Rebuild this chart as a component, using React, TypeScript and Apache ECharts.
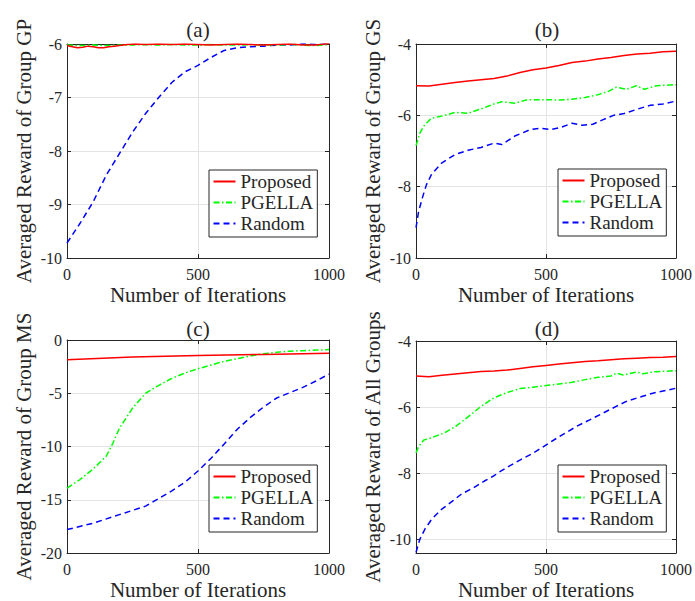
import React, { useEffect, useRef } from "react";
import * as echarts from "echarts";

const SERIES_NAMES = ["Proposed", "PGELLA", "Random"];
const PANEL_TITLES = ["(a)", "(b)", "(c)", "(d)"];
const Y_NAMES = [
  "Averaged Reward of Group GP",
  "Averaged Reward of Group GS",
  "Averaged Reward of Group MS",
  "Averaged Reward of All Groups",
];
const X_NAME = "Number of Iterations";

// Panel (a)
const aPropIter = [0, 20, 40, 60, 80, 100, 120, 140, 160, 180, 200, 230, 260, 300, 350, 400, 450, 500, 550, 600, 650, 700, 750, 800, 850, 900, 950, 1000];
const aPropVal = [-6.03, -6.05, -6.07, -6.06, -6.04, -6.05, -6.07, -6.07, -6.05, -6.04, -6.03, -6.01, -6.0, -6.01, -6.0, -6.01, -6.0, -6.01, -6.02, -6.01, -6.0, -6.01, -6.02, -6.01, -6.0, -6.02, -6.02, -5.99];
const aPgIter = [0, 50, 100, 150, 200, 250, 300, 350, 400, 450, 500, 550, 600, 650, 700, 750, 800, 850, 900, 950, 1000];
const aPgVal = [-6.02, -6.03, -6.02, -6.03, -6.02, -6.02, -6.01, -6.02, -6.01, -6.02, -6.02, -6.01, -6.02, -6.02, -6.01, -6.02, -6.02, -6.01, -6.02, -6.03, -6.01];
const aRandIter = [0, 50, 100, 150, 200, 250, 300, 350, 400, 450, 500, 550, 600, 650, 700, 750, 800, 850, 900, 950, 1000];
const aRandVal = [-9.72, -9.35, -8.95, -8.45, -8.05, -7.65, -7.3, -7.0, -6.72, -6.52, -6.4, -6.25, -6.12, -6.07, -6.05, -6.04, -6.02, -6.02, -6.0, -6.01, -6.0];

// Panel (b)
const bPropIter = [0, 50, 100, 150, 200, 250, 300, 350, 400, 450, 500, 550, 600, 650, 700, 750, 800, 850, 900, 950, 1000];
const bPropVal = [-5.17, -5.18, -5.13, -5.08, -5.04, -5.0, -4.97, -4.9, -4.8, -4.72, -4.67, -4.6, -4.52, -4.48, -4.42, -4.38, -4.32, -4.28, -4.26, -4.22, -4.2];
const bPgIter = [0, 15, 30, 60, 100, 150, 200, 250, 300, 330, 380, 430, 500, 550, 600, 650, 700, 740, 771, 809, 848, 879, 924, 1000];
const bPgVal = [-6.85, -6.5, -6.3, -6.08, -6.02, -5.92, -5.94, -5.82, -5.68, -5.62, -5.66, -5.56, -5.56, -5.57, -5.55, -5.5, -5.42, -5.33, -5.21, -5.27, -5.17, -5.27, -5.17, -5.14];
const bRandIter = [0, 10, 25, 40, 60, 100, 150, 200, 250, 300, 330, 380, 440, 480, 520, 560, 600, 640, 680, 720, 760, 800, 850, 900, 950, 1000];
const bRandVal = [-9.15, -8.7, -8.3, -7.95, -7.65, -7.33, -7.1, -6.98, -6.9, -6.78, -6.82, -6.58, -6.4, -6.36, -6.4, -6.33, -6.22, -6.28, -6.25, -6.12, -6.0, -5.95, -5.83, -5.72, -5.68, -5.6];

// Panel (c)
const cPropIter = [0, 250, 500, 750, 1000];
const cPropVal = [-1.85, -1.6, -1.45, -1.35, -1.25];
const cPgIter = [0, 50, 100, 150, 175, 200, 250, 300, 340, 400, 450, 500, 550, 600, 650, 700, 750, 800, 850, 900, 950, 1000];
const cPgVal = [-13.9, -13.1, -12.1, -10.9, -9.7, -8.3, -6.4, -5.0, -4.4, -3.6, -3.1, -2.7, -2.35, -2.0, -1.75, -1.5, -1.3, -1.15, -1.05, -1.0, -0.95, -0.9];
const cRandIter = [0, 100, 200, 300, 400, 450, 500, 550, 600, 650, 700, 750, 800, 850, 900, 950, 1000];
const cRandVal = [-17.8, -17.2, -16.4, -15.6, -14.17, -13.36, -12.3, -11.1, -9.76, -8.38, -7.27, -6.3, -5.45, -4.95, -4.45, -3.85, -3.2];

// Panel (d)
const dPropIter = [0, 50, 100, 150, 200, 250, 300, 350, 400, 450, 500, 550, 600, 650, 700, 750, 800, 850, 900, 950, 1000];
const dPropVal = [-5.06, -5.08, -5.04, -5.0, -4.96, -4.92, -4.91, -4.88, -4.83, -4.78, -4.74, -4.7, -4.66, -4.62, -4.6, -4.57, -4.54, -4.52, -4.5, -4.49, -4.47];
const dPgIter = [0, 10, 30, 60, 110, 150, 200, 250, 300, 350, 400, 450, 500, 550, 600, 650, 700, 750, 771, 797, 848, 873, 920, 1000];
const dPgVal = [-7.39, -7.2, -7.0, -6.93, -6.78, -6.6, -6.3, -5.98, -5.72, -5.56, -5.44, -5.4, -5.35, -5.3, -5.25, -5.17, -5.1, -5.06, -4.97, -5.03, -4.94, -4.99, -4.93, -4.9];
const dRandIter = [0, 15, 34, 60, 98, 140, 174, 220, 263, 300, 326, 360, 403, 450, 492, 550, 619, 670, 720, 770, 809, 860, 911, 960, 1000];
const dRandVal = [-10.4, -10.0, -9.7, -9.4, -9.1, -8.85, -8.64, -8.45, -8.24, -8.08, -7.94, -7.78, -7.59, -7.4, -7.19, -6.9, -6.58, -6.38, -6.18, -5.98, -5.83, -5.7, -5.58, -5.5, -5.43];

// Axis ranges
const Y_MIN = [-10, -10, -20, -10.42];
const Y_MAX = [-6, -4, 0, -4];
const Y_STEP = [1, 2, 5, 2];
const X_MIN = 0;
const X_MAX = 1000;
const X_STEP = 500;

const PANEL_DATA = [
  [[aPropIter, aPropVal], [aPgIter, aPgVal], [aRandIter, aRandVal]],
  [[bPropIter, bPropVal], [bPgIter, bPgVal], [bRandIter, bRandVal]],
  [[cPropIter, cPropVal], [cPgIter, cPgVal], [cRandIter, cRandVal]],
  [[dPropIter, dPropVal], [dPgIter, dPgVal], [dRandIter, dRandVal]],
];

const FONT = "Liberation Serif";
const INK = "#262626";
const COLORS = ["#ff0000", "#00ff00", "#0000ff"];
const DASHES: any[] = ["solid", [6, 2.5, 1.5, 2.5], [6, 4]];

const GRIDS = [
  { left: 67, top: 44, width: 262, height: 214 },
  { left: 416, top: 44, width: 262, height: 214 },
  { left: 67, top: 340, width: 262, height: 214 },
  { left: 416, top: 341, width: 262, height: 213 },
];
const LEGEND_POS = [
  { left: 209, top: 170 },
  { left: 558, top: 169 },
  { left: 209, top: 465 },
  { left: 558, top: 465 },
];
const TITLE_POS = [
  { x: 198, y: 30 },
  { x: 547, y: 30 },
  { x: 198, y: 329 },
  { x: 547, y: 329 },
];

export default function App() {
  const ref = useRef<HTMLDivElement>(null);
  useEffect(() => {
    if (!ref.current) return;
    const chart = echarts.init(ref.current, undefined, { renderer: "svg" });
    const xAxis: any[] = [];
    const yAxis: any[] = [];
    const series: any[] = [];
    const legend: any[] = [];
    const graphic: any[] = [];
    GRIDS.forEach((g, i) => {
      const tick = { show: true, inside: true, length: 4, lineStyle: { color: INK, width: 1 } };
      const line = { show: true, onZero: false, lineStyle: { color: INK, width: 1 } };
      const split = { show: true, lineStyle: { color: "#e4e4e4", width: 1 } };
      xAxis.push({
        type: "value", gridIndex: i, min: X_MIN, max: X_MAX, interval: X_STEP, position: "bottom",
        axisLine: line, axisTick: tick, splitLine: split,
        axisLabel: { color: INK, fontFamily: FONT, fontSize: 16, margin: 8, formatter: (v: number) => String(v) },
        name: X_NAME, nameLocation: "middle", nameGap: 26,
        nameTextStyle: { color: INK, fontFamily: FONT, fontSize: 21, verticalAlign: "top" },
      });
      xAxis.push({
        type: "value", gridIndex: i, min: X_MIN, max: X_MAX, interval: X_STEP, position: "top",
        axisLine: line, axisTick: tick, splitLine: { show: false }, axisLabel: { show: false },
      });
      const yBase: any = { type: "value", gridIndex: i, min: Y_MIN[i], max: Y_MAX[i] };
      if (i === 3) {
        yBase.splitNumber = 3;
        yBase.minInterval = Y_STEP[i];
        yBase.maxInterval = Y_STEP[i];
      } else {
        yBase.interval = Y_STEP[i];
      }
      yAxis.push({
        ...yBase, position: "left",
        axisLine: line, axisTick: tick, splitLine: split,
        axisLabel: { color: INK, fontFamily: FONT, fontSize: 16, margin: 5, showMinLabel: i !== 3, formatter: (v: number) => String(v) },
        name: Y_NAMES[i], nameLocation: "middle", nameGap: 33,
        nameTextStyle: { color: INK, fontFamily: FONT, fontSize: 21 },
      });
      yAxis.push({
        ...yBase, position: "right",
        axisLine: line, axisTick: tick, splitLine: { show: false }, axisLabel: { show: false },
      });
      PANEL_DATA[i].forEach(([iters, vals], k) => {
        series.push({
          type: "line", name: SERIES_NAMES[k], xAxisIndex: 2 * i, yAxisIndex: 2 * i,
          data: iters.map((it, j) => [it, vals[j]]),
          showSymbol: false, symbol: "none", smooth: false,
          lineStyle: { color: COLORS[k], width: 1.5, type: DASHES[k] },
          itemStyle: { color: COLORS[k] },
          z: 3 - k,
        });
      });
      legend.push({
        orient: "vertical", left: LEGEND_POS[i].left, top: LEGEND_POS[i].top,
        padding: [2, 4, 4, 3.5], itemWidth: 22, itemHeight: 10, itemGap: 2,
        backgroundColor: "#ffffff", borderColor: INK, borderWidth: 1, borderRadius: 0,
        itemStyle: { opacity: 0, color: "rgba(0,0,0,0)", borderWidth: 0 },
        textStyle: { color: INK, fontFamily: FONT, fontSize: 19 },
        data: SERIES_NAMES, selectedMode: false,
      });
      graphic.push({
        type: "text", x: TITLE_POS[i].x, y: TITLE_POS[i].y,
        style: { text: PANEL_TITLES[i], fill: INK, fontFamily: FONT, fontSize: 21, align: "center", verticalAlign: "middle" },
      });
    });
    chart.setOption({
      animation: false,
      backgroundColor: "#ffffff",
      textStyle: { fontFamily: FONT },
      grid: GRIDS.map((g) => ({ ...g, containLabel: false })),
      xAxis, yAxis, series, legend, graphic,
    });
    return () => chart.dispose();
  }, []);
  return (
    <div
      ref={ref}
      style={{ position: "absolute", left: 0, top: 0, width: 695, height: 601, background: "#fff" }}
    />
  );
}
